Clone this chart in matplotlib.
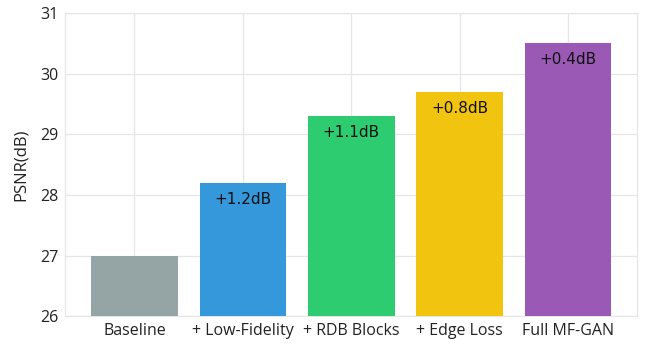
import matplotlib
matplotlib.use("Agg")
import matplotlib.pyplot as plt

# Ablation study: PSNR after adding each component
categories = ["Baseline", "+ Low-Fidelity", "+ RDB Blocks", "+ Edge Loss", "Full MF-GAN"]
psnr = [27.0, 28.2, 29.3, 29.7, 30.5]
gain_labels = ["", "+1.2dB", "+1.1dB", "+0.8dB", "+0.4dB"]
colors = ["#95a5a6", "#3498db", "#2ecc71", "#f1c40f", "#9b59b6"]
y_ticks = [26, 27, 28, 29, 30, 31]

plt.rcParams["font.family"] = ["Open Sans", "DejaVu Sans"]

fig = plt.figure(figsize=(6.45, 3.44), dpi=100)
ax = fig.add_axes([0.101, 0.081, 0.887, 0.881])

x = list(range(len(categories)))
ax.bar(x, psnr, width=0.8, color=colors, zorder=3)

for xi, val, lab in zip(x, psnr, gain_labels):
    if lab:
        ax.text(xi, val - 0.15, lab, ha="center", va="top", fontsize=11,
                color="#111111", family=["DejaVu Sans"], zorder=4)

ax.set_ylim(26, 31)
ax.set_xlim(-0.64, 4.64)
ax.set_yticks(y_ticks)
ax.set_xticks(x)
ax.set_xticklabels(categories, fontsize=11.5, color="#222222")
ax.tick_params(axis="y", labelsize=11.5, labelcolor="#222222")
ax.tick_params(length=0, pad=5)
ax.set_ylabel("PSNR(dB)", fontsize=12, color="#222222", labelpad=8)

ax.grid(True, color="#e6e6e6", linewidth=0.9, zorder=0)
for s in ax.spines.values():
    s.set_color("#e6e6e6")
    s.set_linewidth(0.9)

fig.savefig("out.png", dpi=100)
